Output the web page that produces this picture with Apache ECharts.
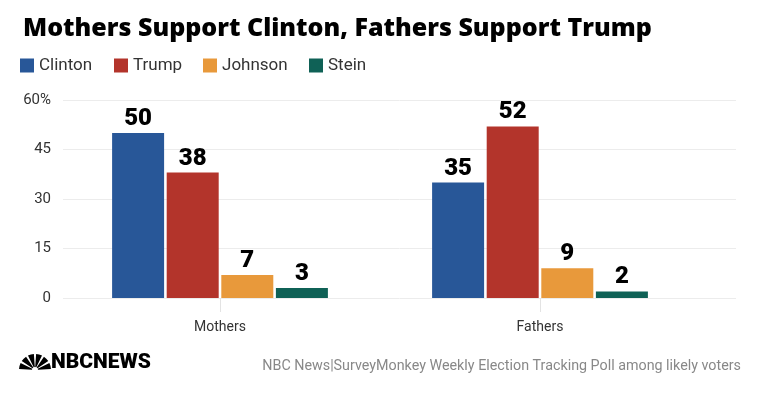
<!DOCTYPE html>
<html>
<head>
<meta charset="utf-8">
<script src="https://cdn.jsdelivr.net/npm/echarts@6/dist/echarts.min.js"></script>
<style>
  html, body { margin: 0; padding: 0; background: #fff; }
  #chart { width: 760px; height: 399px; }
</style>
</head>
<body>
<div id="chart"></div>
<script>
const categories = ['Mothers', 'Fathers']
const candidates = ['Clinton', 'Trump', 'Johnson', 'Stein']
const clinton = [50, 35]
const trump = [38, 52]
const johnson = [7, 9]
const stein = [3, 2]
const yMin = 0
const yMax = 60
const yStep = 15

const colors = ['#285798', '#b3342b', '#e8993b', '#0f6156']
const legendLeft = [20, 114, 203, 309]
const thin = 'Roboto, sans-serif'

const chart = echarts.init(document.getElementById('chart'))

function barSeries(name, data, color) {
  return {
    name: name,
    type: 'bar',
    xAxisIndex: 1,
    yAxisIndex: 1,
    data: data,
    barWidth: 52,
    barGap: '5%',
    itemStyle: { color: color },
    label: {
      show: true,
      position: 'top',
      distance: 2,
      color: '#000',
      fontSize: 24,
      fontWeight: 900,
      fontFamily: 'Roboto, sans-serif'
    }
  }
}

// peacock feathers, just a simple fan
const feathers = []
for (let i = 0; i < 6; i++) {
  const a0 = Math.PI + i * Math.PI / 6 + 0.07
  const a1 = Math.PI + (i + 1) * Math.PI / 6 - 0.07
  feathers.push({
    type: 'sector',
    shape: { cx: 35, cy: 370, r0: 3, r: 16, startAngle: a0, endAngle: a1 },
    style: { fill: '#000' }
  })
}

const option = {
  animation: false,
  title: {
    text: 'Mothers Support Clinton, Fathers Support Trump',
    left: 18,
    top: 11,
    textStyle: {
      fontFamily: '"Open Sans", sans-serif',
      fontWeight: 800,
      fontSize: 25,
      color: '#000'
    }
  },
  legend: candidates.map((c, i) => ({
    data: [c],
    left: legendLeft[i],
    top: 57,
    icon: 'rect',
    itemWidth: 14,
    itemHeight: 14,
    padding: 0,
    textStyle: { fontFamily: thin, fontSize: 17, color: '#333' }
  })),
  grid: [
    { left: 63, right: 24, top: 100, bottom: 101 },
    { left: 60, right: 60, top: 100, bottom: 101 }
  ],
  xAxis: [
    { type: 'value', gridIndex: 0, show: false },
    {
      type: 'category',
      gridIndex: 1,
      data: categories,
      axisLine: { show: false },
      axisTick: { show: true, alignWithLabel: true, length: 14, lineStyle: { color: '#e3e3e3' } },
      axisLabel: { margin: 22, fontSize: 14, color: '#333', fontFamily: thin }
    }
  ],
  yAxis: [
    {
      type: 'value',
      gridIndex: 0,
      min: yMin,
      max: yMax,
      interval: yStep,
      axisLine: { show: false },
      axisTick: { show: false },
      splitLine: { lineStyle: { color: '#ececec' } },
      axisLabel: {
        margin: 12,
        fontSize: 15,
        color: '#333',
        fontFamily: thin,
        formatter: v => (v === yMax ? v + '%' : v)
      }
    },
    { type: 'value', gridIndex: 1, min: yMin, max: yMax, interval: yStep, show: false }
  ],
  series: [
    barSeries(candidates[0], clinton, colors[0]),
    barSeries(candidates[1], trump, colors[1]),
    barSeries(candidates[2], johnson, colors[2]),
    barSeries(candidates[3], stein, colors[3])
  ],
  graphic: [
    ...feathers,
    {
      type: 'text',
      left: 51,
      top: 352,
      style: {
        text: 'NBCNEWS',
        fontFamily: thin,
        fontWeight: 900,
        fontSize: 21,
        fill: '#000'
      }
    },
    {
      type: 'text',
      right: 19,
      top: 359,
      style: {
        text: 'NBC News|SurveyMonkey Weekly Election Tracking Poll among likely voters',
        fontFamily: thin,
        fontSize: 14.3,
        fill: '#888'
      }
    }
  ]
}

chart.setOption(option)
</script>
</body>
</html>
